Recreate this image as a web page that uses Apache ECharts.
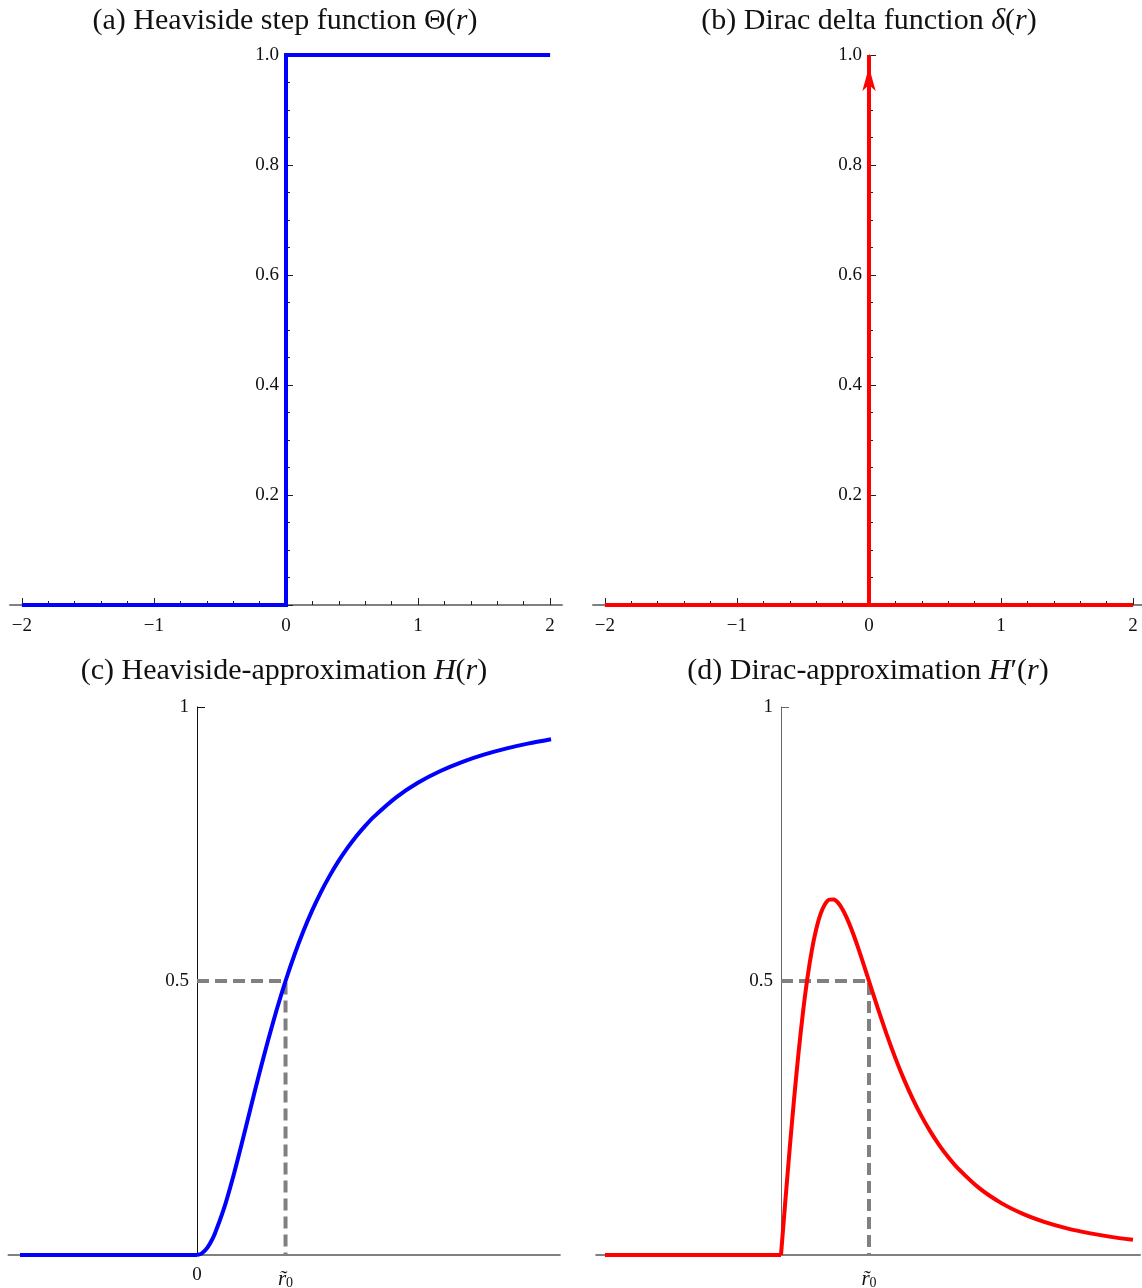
<!DOCTYPE html>
<html>
<head>
<meta charset="utf-8">
<script src="https://cdn.jsdelivr.net/npm/echarts@6/dist/echarts.min.js"></script>
<style>
  html, body { margin: 0; padding: 0; background: #ffffff; }
  #main { width: 1142px; height: 1288px; }
</style>
</head>
<body>
<div id="main"></div>
<script>
// (a) unit step Θ(r)
const stepR = [-2, 0, 0, 2];
const stepVal = [0, 0, 1, 1];

// (b) delta δ(r): zero baseline plus a unit spike at r = 0
const deltaBaseR = [-2, 2];
const deltaBaseVal = [0, 0];
const deltaSpikeR = [0, 0];
const deltaSpikeVal = [0, 1];

// tick positions for (a) and (b)
const stepMajorTicks = [-2, -1, 0, 1, 2];
const stepMinorTicks = [-1.8, -1.6, -1.4, -1.2, -0.8, -0.6, -0.4, -0.2,
                        0.2, 0.4, 0.6, 0.8, 1.2, 1.4, 1.6, 1.8];

// (c) and (d) are zero for negative r
const flatR = [-2, 0];
const flatVal = [0, 0];

// (c) smooth step H(r), r >= 0
const hR = [0, 0.05, 0.1, 0.15, 0.2, 0.3, 0.4, 0.5, 0.6, 0.7, 0.8, 0.9, 1.0, 1.1, 1.2, 1.3, 1.4, 1.5, 1.6,
            1.7, 1.8, 1.9, 2.0, 2.25, 2.5, 2.75, 3.0, 3.25, 3.5, 3.75, 4.0];
const hVal = [0, 0.0025, 0.0099, 0.022, 0.0385, 0.0826, 0.1379, 0.2, 0.2647, 0.3289, 0.3902, 0.4475, 0.5,
              0.5475, 0.5902, 0.6283, 0.6622, 0.6923, 0.7191, 0.7429, 0.7642, 0.7831, 0.8, 0.8351,
              0.8621, 0.8832, 0.9, 0.9135, 0.9245, 0.9336, 0.9412];

// (d) its derivative H'(r), r >= 0
const dR = [0, 0.05, 0.1, 0.15, 0.2, 0.25, 0.3, 0.35, 0.4, 0.45, 0.5, 0.55, 0.6, 0.65, 0.7, 0.75,
            0.8, 0.85, 0.9, 0.95, 1.0, 1.1, 1.2, 1.3, 1.4, 1.5, 1.6, 1.7, 1.8, 1.9, 2.0, 2.25, 2.5,
            2.75, 3.0, 3.25, 3.5, 3.75, 4.0];
const dVal = [0, 0.0995, 0.1961, 0.2869, 0.3698, 0.4429, 0.505, 0.5556, 0.5945, 0.6224, 0.64,
              0.6484, 0.6488, 0.6425, 0.6306, 0.6144, 0.5949, 0.573, 0.5494, 0.5249, 0.5, 0.4504,
              0.4031, 0.3593, 0.3196, 0.284, 0.2525, 0.2247, 0.2002, 0.1788, 0.16, 0.1224, 0.0951,
              0.075, 0.06, 0.0486, 0.0399, 0.0331, 0.0277];

// transition point r̃0 and the level reached there
const r0 = 1;
const r0Level = 0.5;
const smoothTicksC = [0, 1];
const smoothTicksD = [1];
const smoothTicksY = [0.5, 1];

const SERIF = '"Liberation Serif", "DejaVu Serif", serif';
const BLUE = '#0000ff';
const RED = '#ff0000';
const AXIS_GRAY = '#808080';
const INK = '#222222';

const pairs = (xs, ys) => xs.map((x, i) => [x, ys[i]]);
const minusFmt = v => (v < 0 ? '\u2212' + Math.abs(v) : String(v));

// each panel: x-range and the pixel frame; the vertical axis sits at r = 0
const panels = [
  { left: 10, top: 55, width: 552, height: 550, xmin: -2.09, xmax: 2.09 },      // (a)
  { left: 593, top: 55, width: 552, height: 550, xmin: -2.09, xmax: 2.09 },     // (b)
  { left: 8.5, top: 707, width: 551.4, height: 548, xmin: -2.13, xmax: 4.1 },   // (c)
  { left: 596.2, top: 707, width: 543.8, height: 548, xmin: -2.1, xmax: 4.08 }  // (d)
];
const zeroOffset = p => -(p.width * (0 - p.xmin) / (p.xmax - p.xmin));

const grids = panels.map(p => ({
  left: p.left, top: p.top, width: p.width, height: p.height,
  containLabel: false, outerBoundsMode: 'none'
}));

function stepXAxes(gi) {
  const p = panels[gi];
  return [
    {
      type: 'value', gridIndex: gi, min: p.xmin, max: p.xmax, position: 'bottom',
      axisLine: { show: true, onZero: false, lineStyle: { color: AXIS_GRAY, width: 2 } },
      axisTick: { show: true, inside: true, length: 7, customValues: stepMajorTicks,
                  lineStyle: { color: INK, width: 1 } },
      axisLabel: { show: true, customValues: stepMajorTicks, margin: 12, formatter: minusFmt,
                   fontFamily: SERIF, fontSize: 19, color: '#111' },
      splitLine: { show: false }
    },
    {
      type: 'value', gridIndex: gi, min: p.xmin, max: p.xmax, position: 'bottom',
      axisLine: { show: false, onZero: false },
      axisTick: { show: true, inside: true, length: 4, customValues: stepMinorTicks,
                  lineStyle: { color: INK, width: 1 } },
      axisLabel: { show: false },
      splitLine: { show: false }
    }
  ];
}

function stepYAxis(gi) {
  return {
    type: 'value', gridIndex: gi, min: 0, max: 1, interval: 0.2, position: 'left',
    offset: zeroOffset(panels[gi]),
    axisLine: { show: true, onZero: false, lineStyle: { color: INK, width: 1 } },
    axisTick: { show: true, inside: true, length: 7, lineStyle: { color: INK, width: 1 } },
    minorTick: { show: true, splitNumber: 4, length: 4, lineStyle: { color: INK, width: 1 } },
    axisLabel: { show: true, margin: 7, fontFamily: SERIF, fontSize: 19, color: '#111',
                 formatter: v => (v === 0 ? '' : v.toFixed(1)) },
    splitLine: { show: false }
  };
}

const r0Rich = {
  i: { fontFamily: SERIF, fontStyle: 'italic', fontSize: 21, color: '#111', lineHeight: 24, verticalAlign: 'bottom' },
  s: { fontFamily: SERIF, fontSize: 14, color: '#111', lineHeight: 17, verticalAlign: 'bottom' }
};

function smoothXAxis(gi, ticks) {
  const p = panels[gi];
  return {
    type: 'value', gridIndex: gi, min: p.xmin, max: p.xmax, position: 'bottom',
    axisLine: { show: true, onZero: false, lineStyle: { color: AXIS_GRAY, width: 2 } },
    axisTick: { show: false },
    axisLabel: { show: true, customValues: ticks, margin: 11, fontFamily: SERIF, fontSize: 19, color: '#111',
                 formatter: v => (v === 0 ? '0' : '{i|r\u0303}{s|0}'), rich: r0Rich },
    splitLine: { show: false }
  };
}

function smoothYAxis(gi, lineColor) {
  return {
    type: 'value', gridIndex: gi, min: 0, max: 1, position: 'left',
    offset: zeroOffset(panels[gi]),
    axisLine: { show: true, onZero: false, lineStyle: { color: lineColor, width: 1 } },
    axisTick: { show: true, inside: true, length: 8, customValues: smoothTicksY,
                lineStyle: { color: lineColor, width: 1 } },
    axisLabel: { show: true, customValues: smoothTicksY, margin: 8, fontFamily: SERIF, fontSize: 19, color: '#111',
                 formatter: v => (v === 1 ? '1' : '0.5') },
    splitLine: { show: false }
  };
}

const xAxes = [
  ...stepXAxes(0),               // 0,1
  ...stepXAxes(1),               // 2,3
  smoothXAxis(2, smoothTicksC),  // 4
  smoothXAxis(3, smoothTicksD)   // 5
];
const yAxes = [
  stepYAxis(0),
  stepYAxis(1),
  smoothYAxis(2, '#111111'),
  smoothYAxis(3, '#666666')
];

const guide = [[0, r0Level], [r0, r0Level], [r0, 0]];

const plain = { showSymbol: false, symbol: 'none', clip: false };

const series = [
  Object.assign({ type: 'line', xAxisIndex: 0, yAxisIndex: 0, data: pairs(stepR, stepVal),
    lineStyle: { color: BLUE, width: 4, join: 'miter' }, z: 3 }, plain),
  Object.assign({ type: 'line', xAxisIndex: 2, yAxisIndex: 1, data: pairs(deltaBaseR, deltaBaseVal),
    lineStyle: { color: RED, width: 4 }, z: 3 }, plain),
  {
    type: 'line', xAxisIndex: 2, yAxisIndex: 1, clip: false,
    data: [
      { value: [deltaSpikeR[0], deltaSpikeVal[0]], symbol: 'none' },
      { value: [deltaSpikeR[1], deltaSpikeVal[1]], symbol: 'arrow', symbolSize: [10, 24], symbolOffset: [0, '50%'] }
    ],
    showSymbol: true,
    itemStyle: { color: RED },
    lineStyle: { color: RED, width: 4 }, z: 4
  },
  Object.assign({ type: 'line', xAxisIndex: 4, yAxisIndex: 2, data: guide,
    lineStyle: { color: AXIS_GRAY, width: 4, type: [12, 6] }, z: 3 }, plain),
  Object.assign({ type: 'line', xAxisIndex: 4, yAxisIndex: 2, data: pairs(flatR, flatVal),
    lineStyle: { color: BLUE, width: 4 }, z: 4 }, plain),
  Object.assign({ type: 'line', xAxisIndex: 4, yAxisIndex: 2, data: pairs(hR, hVal),
    smooth: 0.25,
    lineStyle: { color: BLUE, width: 4 }, z: 4 }, plain),
  Object.assign({ type: 'line', xAxisIndex: 5, yAxisIndex: 3, data: guide,
    lineStyle: { color: AXIS_GRAY, width: 4, type: [12, 6] }, z: 3 }, plain),
  Object.assign({ type: 'line', xAxisIndex: 5, yAxisIndex: 3, data: pairs(flatR, flatVal),
    lineStyle: { color: RED, width: 4 }, z: 4 }, plain),
  Object.assign({ type: 'line', xAxisIndex: 5, yAxisIndex: 3, data: pairs(dR, dVal),
    smooth: 0.25,
    lineStyle: { color: RED, width: 4 }, z: 4 }, plain)
];

const titleRich = {
  i: { fontFamily: SERIF, fontStyle: 'italic', fontSize: 30, fill: '#111' }
};
function titleText(x, y, text) {
  return {
    type: 'text', x: x, y: y,
    style: { text: text, fontFamily: SERIF, fontSize: 30, fill: '#111',
             align: 'center', verticalAlign: 'middle', rich: titleRich }
  };
}

const chart = echarts.init(document.getElementById('main'), null, { renderer: 'canvas' });
chart.setOption({
  animation: false,
  backgroundColor: '#ffffff',
  grid: grids,
  xAxis: xAxes,
  yAxis: yAxes,
  series: series,
  graphic: [
    titleText(285, 21, '(a) Heaviside step function \u0398({i|r})'),
    titleText(869, 21, '(b) Dirac delta function {i|\u03b4}({i|r})'),
    titleText(284, 671, '(c) Heaviside-approximation {i|H}({i|r})'),
    titleText(868, 671, '(d) Dirac-approximation {i|H}\u2032({i|r})')
  ]
});
</script>
</body>
</html>
